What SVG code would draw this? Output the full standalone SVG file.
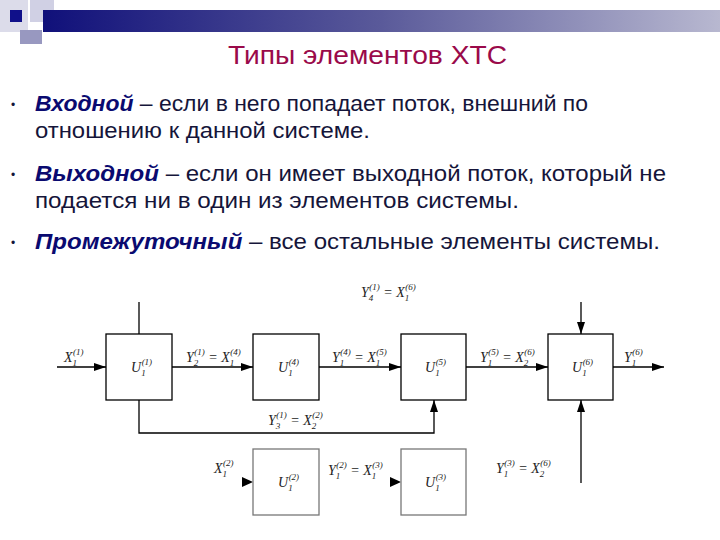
<svg xmlns="http://www.w3.org/2000/svg" width="720" height="540" viewBox="0 0 720 540">
<defs>
<linearGradient id="bar" x1="0" y1="0" x2="1" y2="0">
<stop offset="0" stop-color="#10107a"/>
<stop offset="0.5" stop-color="#5a5a9a"/>
<stop offset="1" stop-color="#b8b8d0"/>
</linearGradient>
<marker id="ah" viewBox="0 0 12 8" refX="12" refY="4" markerWidth="12" markerHeight="8" markerUnits="userSpaceOnUse" orient="auto">
<path d="M0,0 L12,4 L0,8 Z" fill="#000"/>
</marker>
<style>
.title{font-family:"Liberation Sans",Arial,sans-serif;font-size:26px;fill:#9a0a4a}
.body{font-family:"Liberation Sans",Arial,sans-serif;font-size:22px;fill:#15153a}
.em{font-weight:bold;font-style:italic;fill:#0a0a70}
.bul{font-family:"Liberation Sans",Arial,sans-serif;font-size:12px;fill:#15153a}
.m{font-family:"Liberation Serif","Times New Roman",serif;font-style:italic;font-size:14px;fill:#222}
.s{font-size:9px}
.box{fill:#fff;stroke:#000;stroke-width:1.3}
.gbox{fill:#fff;stroke:#777;stroke-width:1.3}
.ln{fill:none;stroke:#000;stroke-width:1.3}
.arr{fill:none;stroke:#000;stroke-width:1.3;marker-end:url(#ah)}
</style>
</defs>
<rect width="720" height="540" fill="#fff"/>
<g id="decor">
<rect x="0" y="0" width="28" height="32" fill="#dcdcea"/>
<rect x="30" y="0" width="24" height="22" fill="#d0d0e4"/>
<rect x="20" y="30" width="22" height="14" fill="#9898c0"/>
<rect x="43" y="10" width="677" height="22" fill="url(#bar)"/>
<rect x="10" y="10" width="12" height="12" fill="#10108a"/>
</g>
<g id="title"><text class="title" x="228" y="64" textLength="279" lengthAdjust="spacingAndGlyphs">Типы элементов ХТС</text></g>
<g id="bullets">
<text class="bul" x="11" y="109">•</text>
<text class="body" x="35" y="111" textLength="553" lengthAdjust="spacingAndGlyphs"><tspan class="em">Входной</tspan> – если в него попадает поток, внешний по</text>
<text class="body" x="35" y="138" textLength="335" lengthAdjust="spacingAndGlyphs">отношению к данной системе.</text>
<text class="bul" x="11" y="179">•</text>
<text class="body" x="35" y="181" textLength="631" lengthAdjust="spacingAndGlyphs"><tspan class="em">Выходной</tspan> – если он имеет выходной поток, который не</text>
<text class="body" x="35" y="208" textLength="484" lengthAdjust="spacingAndGlyphs">подается ни в один из элементов системы.</text>
<text class="bul" x="11" y="247">•</text>
<text class="body" x="35" y="249" textLength="625" lengthAdjust="spacingAndGlyphs"><tspan class="em">Промежуточный</tspan> – все остальные элементы системы.</text>
</g>
<g id="connectors">
<line class="arr" x1="57" y1="367" x2="106" y2="367"/>
<line class="arr" x1="172" y1="367" x2="253" y2="367"/>
<line class="arr" x1="319" y1="367" x2="401" y2="367"/>
<line class="arr" x1="466" y1="367" x2="548" y2="367"/>
<line class="arr" x1="613" y1="367" x2="664" y2="367"/>
<line class="ln" x1="139" y1="302" x2="139" y2="334"/>
<polyline class="arr" points="139,400 139,433 434,433 434,400"/>
<line class="arr" x1="581" y1="302" x2="581" y2="334"/>
<line class="arr" x1="581" y1="483" x2="581" y2="400"/>
<path d="M242,477 L253,482 L242,487 Z" fill="#000"/>
<path d="M390,477 L401,482 L390,487 Z" fill="#000"/>
</g>
<g id="n1"><rect class="box" x="106" y="334" width="66" height="66"/>
<text class="m" x="131" y="372">U<tspan class="s" dy="4">1</tspan><tspan class="s" dx="-4" dy="-11">(1)</tspan></text></g>
<g id="n4"><rect class="box" x="253" y="334" width="66" height="66"/>
<text class="m" x="278" y="372">U<tspan class="s" dy="4">1</tspan><tspan class="s" dx="-4" dy="-11">(4)</tspan></text></g>
<g id="n5"><rect class="box" x="401" y="334" width="65" height="66"/>
<text class="m" x="425" y="372">U<tspan class="s" dy="4">1</tspan><tspan class="s" dx="-4" dy="-11">(5)</tspan></text></g>
<g id="n6"><rect class="box" x="548" y="334" width="65" height="66"/>
<text class="m" x="572" y="372">U<tspan class="s" dy="4">1</tspan><tspan class="s" dx="-4" dy="-11">(6)</tspan></text></g>
<g id="n2"><rect class="gbox" x="253" y="449" width="66" height="66"/>
<text class="m" x="278" y="487">U<tspan class="s" dy="4">1</tspan><tspan class="s" dx="-4" dy="-11">(2)</tspan></text></g>
<g id="n3"><rect class="gbox" x="401" y="449" width="65" height="66"/>
<text class="m" x="425" y="487">U<tspan class="s" dy="4">1</tspan><tspan class="s" dx="-4" dy="-11">(3)</tspan></text></g>
<g id="labels">
<text class="m" x="64" y="362">X<tspan class="s" dy="4">1</tspan><tspan class="s" dx="-4" dy="-11">(1)</tspan></text>
<text class="m" x="186" y="362">Y<tspan class="s" dy="4">2</tspan><tspan class="s" dx="-4" dy="-11">(1)</tspan><tspan dy="7"> = X</tspan><tspan class="s" dy="4">1</tspan><tspan class="s" dx="-4" dy="-11">(4)</tspan></text>
<text class="m" x="332" y="362">Y<tspan class="s" dy="4">1</tspan><tspan class="s" dx="-4" dy="-11">(4)</tspan><tspan dy="7"> = X</tspan><tspan class="s" dy="4">1</tspan><tspan class="s" dx="-4" dy="-11">(5)</tspan></text>
<text class="m" x="480" y="362">Y<tspan class="s" dy="4">1</tspan><tspan class="s" dx="-4" dy="-11">(5)</tspan><tspan dy="7"> = X</tspan><tspan class="s" dy="4">2</tspan><tspan class="s" dx="-4" dy="-11">(6)</tspan></text>
<text class="m" x="624" y="362">Y<tspan class="s" dy="4">1</tspan><tspan class="s" dx="-4" dy="-11">(6)</tspan></text>
<text class="m" x="361" y="297">Y<tspan class="s" dy="4">4</tspan><tspan class="s" dx="-4" dy="-11">(1)</tspan><tspan dy="7"> = X</tspan><tspan class="s" dy="4">1</tspan><tspan class="s" dx="-4" dy="-11">(6)</tspan></text>
<text class="m" x="268" y="425">Y<tspan class="s" dy="4">3</tspan><tspan class="s" dx="-4" dy="-11">(1)</tspan><tspan dy="7"> = X</tspan><tspan class="s" dy="4">2</tspan><tspan class="s" dx="-4" dy="-11">(2)</tspan></text>
<text class="m" x="214" y="473">X<tspan class="s" dy="4">1</tspan><tspan class="s" dx="-4" dy="-11">(2)</tspan></text>
<text class="m" x="328" y="475">Y<tspan class="s" dy="4">1</tspan><tspan class="s" dx="-4" dy="-11">(2)</tspan><tspan dy="7"> = X</tspan><tspan class="s" dy="4">1</tspan><tspan class="s" dx="-4" dy="-11">(3)</tspan></text>
<text class="m" x="496" y="473">Y<tspan class="s" dy="4">1</tspan><tspan class="s" dx="-4" dy="-11">(3)</tspan><tspan dy="7"> = X</tspan><tspan class="s" dy="4">2</tspan><tspan class="s" dx="-4" dy="-11">(6)</tspan></text>
</g>
</svg>
